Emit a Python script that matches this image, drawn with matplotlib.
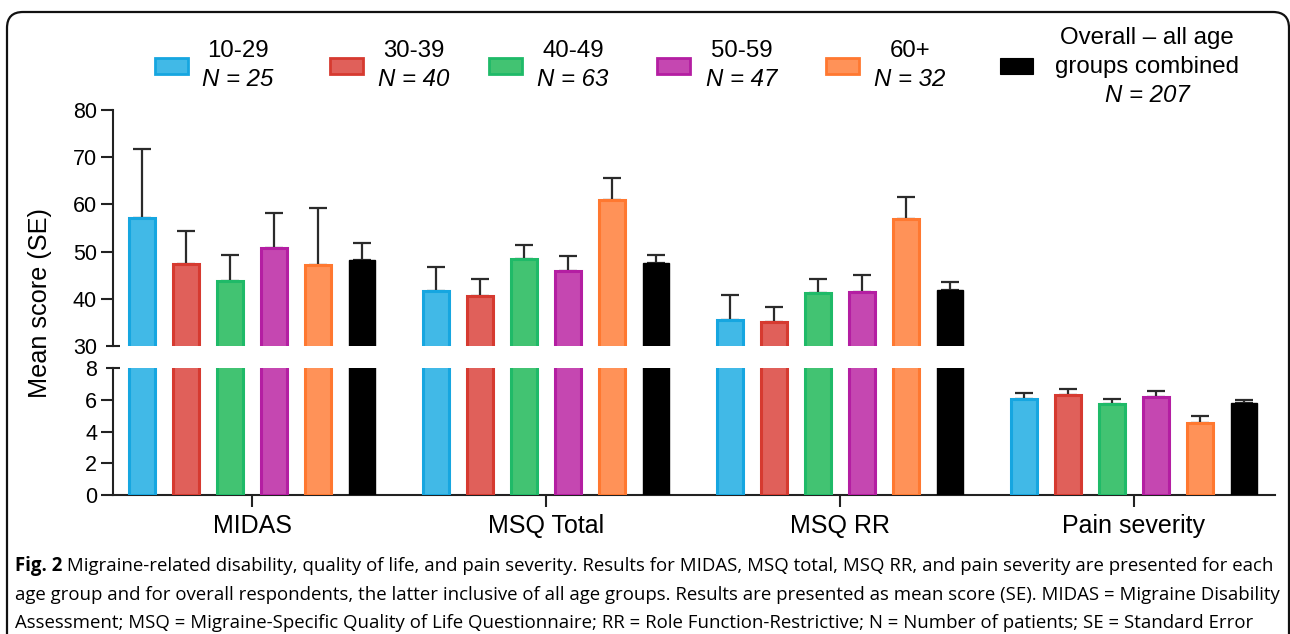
import matplotlib
matplotlib.use('Agg')
import matplotlib.pyplot as plt
import numpy as np
from matplotlib.patches import FancyBboxPatch, Rectangle
from matplotlib.transforms import IdentityTransform, blended_transform_factory

# ---------------- data ----------------
categories = ['MIDAS', 'MSQ Total', 'MSQ RR', 'Pain severity']
group_names = ['10-29', '30-39', '40-49', '50-59', '60+', 'Overall \u2013 all age']
overall_line2 = 'groups combined'
group_n = ['N = 25', 'N = 40', 'N = 63', 'N = 47', 'N = 32', 'N = 207']

mean_10_29 = [57.1, 41.6, 35.6, 6.05]
se_10_29 = [14.6, 5.1, 5.3, 0.40]
mean_30_39 = [47.3, 40.6, 35.1, 6.30]
se_30_39 = [7.1, 3.7, 3.2, 0.38]
mean_40_49 = [43.8, 48.4, 41.3, 5.73]
se_40_49 = [5.4, 2.9, 2.8, 0.34]
mean_50_59 = [50.8, 45.9, 41.4, 6.17]
se_50_59 = [7.4, 3.2, 3.7, 0.38]
mean_60_plus = [47.2, 60.9, 56.9, 4.56]
se_60_plus = [12.1, 4.7, 4.6, 0.42]
mean_overall = [48.2, 47.5, 41.9, 5.82]
se_overall = [3.7, 1.7, 1.7, 0.16]

top_ticks = [30, 40, 50, 60, 70, 80]
bottom_ticks = [0, 2, 4, 6, 8]

means = [mean_10_29, mean_30_39, mean_40_49, mean_50_59, mean_60_plus, mean_overall]
ses = [se_10_29, se_30_39, se_40_49, se_50_59, se_60_plus, se_overall]

fills = ['#41B9E7', '#E0605A', '#42C372', '#C547B1', '#FF9258', '#000000']
edges = ['#16A6E0', '#D63A30', '#1FBA68', '#B41EA2', '#FF7830', '#000000']

caption_lines = [
    " Migraine-related disability, quality of life, and pain severity. Results for MIDAS, MSQ total, MSQ RR, and pain severity are presented for each",
    "age group and for overall respondents, the latter inclusive of all age groups. Results are presented as mean score (SE). MIDAS = Migraine Disability",
    "Assessment; MSQ = Migraine-Specific Quality of Life Questionnaire; RR = Role Function-Restrictive; N = Number of patients; SE = Standard Error",
]

# ---------------- figure ----------------
W, H = 1290, 634
fig = plt.figure(figsize=(W / 100, H / 100), dpi=100)
plt.rcParams['font.family'] = ['Liberation Sans', 'DejaVu Sans']

def fx(px):
    return px / W

def fy(py):
    return 1 - py / H

left_px, right_px = 113, 1275
ax_top = fig.add_axes([fx(left_px), fy(346), fx(right_px - left_px), (346 - 110) / H])
ax_bot = fig.add_axes([fx(left_px), fy(495), fx(right_px - left_px), (495 - 368) / H])

x = np.arange(len(categories))
pitch = 0.15
width = 0.089
lw_edge = 2.2
for j in range(len(means)):
    xpos = x + (j - 2.5) * pitch
    for ax in (ax_top, ax_bot):
        ax.bar(xpos, means[j], width=width, color=fills[j], edgecolor=edges[j],
               linewidth=lw_edge if j < 5 else 1.0, zorder=3)
        ax.errorbar(xpos, means[j], yerr=[np.zeros(len(ses[j])), ses[j]], fmt='none',
                    ecolor='#2b2b2b', elinewidth=1.6, capsize=6.5, capthick=1.6, zorder=2)

for ax in (ax_top, ax_bot):
    ax.set_xlim(-0.473, 3.48)
    ax.spines['top'].set_visible(False)
    ax.spines['right'].set_visible(False)
    for sp in ax.spines.values():
        sp.set_linewidth(1.5)
        sp.set_color('#222222')
    ax.tick_params(axis='y', length=8.5, width=1.5, labelsize=15.5, pad=3, color='#222222')
    ax.tick_params(axis='x', length=8.5, width=1.5, labelsize=18, pad=5, color='#222222')
    ax.set_facecolor('none')

ax_top.set_ylim(30, 80)
ax_top.set_yticks(top_ticks)
ax_top.spines['bottom'].set_visible(False)
ax_top.set_xticks([])

ax_bot.set_ylim(0, 8)
ax_bot.set_yticks(bottom_ticks)
ax_bot.set_xticks(x)
ax_bot.set_xticklabels(categories)

# break marks at 30 and 8
d = 7 / (right_px - left_px)
fig.canvas.draw()
for ax, yv, idx in ((ax_top, 30, 0), (ax_bot, 8, len(bottom_ticks) - 1)):
    ax.yaxis.get_major_ticks()[idx].tick1line.set_visible(False)
    tr = blended_transform_factory(ax.transAxes, ax.transData)
    ax.plot([-d, d], [yv, yv], transform=tr, color='#222222', lw=1.5, clip_on=False,
            solid_capstyle='butt')

fig.text(fx(40), fy(303), 'Mean score (SE)', rotation=90, ha='center', va='center', fontsize=18.2)

# ---------------- legend ----------------
patch_left = [155, 330, 489, 657, 826, 1000]
text_cx = [238, 414, 573, 742, 910, 1147]
leg_fs = 17.3
for j in range(len(group_names)):
    r = Rectangle((fx(patch_left[j]), fy(74)), fx(33), 16 / H, transform=fig.transFigure,
                  facecolor=fills[j], edgecolor=edges[j], linewidth=2.0 if j < 5 else 0.8)
    fig.patches.append(r)
    if j < 5:
        fig.text(fx(text_cx[j]), fy(51), group_names[j], ha='center', va='center', fontsize=leg_fs)
        fig.text(fx(text_cx[j]), fy(80), group_n[j], ha='center', va='center', fontsize=leg_fs,
                 style='italic')
    else:
        fig.text(fx(text_cx[j]), fy(38), group_names[j], ha='center', va='center', fontsize=leg_fs)
        fig.text(fx(text_cx[j]), fy(67), overall_line2, ha='center', va='center', fontsize=leg_fs)
        fig.text(fx(text_cx[j]), fy(96), group_n[j], ha='center', va='center', fontsize=leg_fs,
                 style='italic')

# ---------------- caption ----------------
cap_font = ['Open Sans', 'DejaVu Sans']
renderer = fig.canvas.get_renderer()
probe = fig.text(0, 0, caption_lines[1], fontsize=13, family=cap_font)
w_probe = probe.get_window_extent(renderer).width
probe.remove()
cap_size = 13 * (1277 - 15) / w_probe

line_y = [566, 595, 623]
fig_lbl = fig.text(fx(15), fy(line_y[0]), 'Fig. 2', fontsize=cap_size, family=cap_font,
                   weight='bold', va='center', ha='left')
wb = fig_lbl.get_window_extent(renderer).width
fig.text(fx(15 + wb), fy(line_y[0]), caption_lines[0], fontsize=cap_size, family=cap_font,
         va='center', ha='left')
for i in (1, 2):
    fig.text(fx(15), fy(line_y[i]), caption_lines[i], fontsize=cap_size, family=cap_font,
             va='center', ha='left')

# ---------------- border ----------------
border = FancyBboxPatch((7, -20), 1289 - 7, (H - 12) + 20, boxstyle='round,pad=0,rounding_size=16',
                        transform=IdentityTransform(), facecolor='none', edgecolor='#111111',
                        linewidth=1.6)
fig.patches.append(border)

fig.savefig('out.png', dpi=100)
